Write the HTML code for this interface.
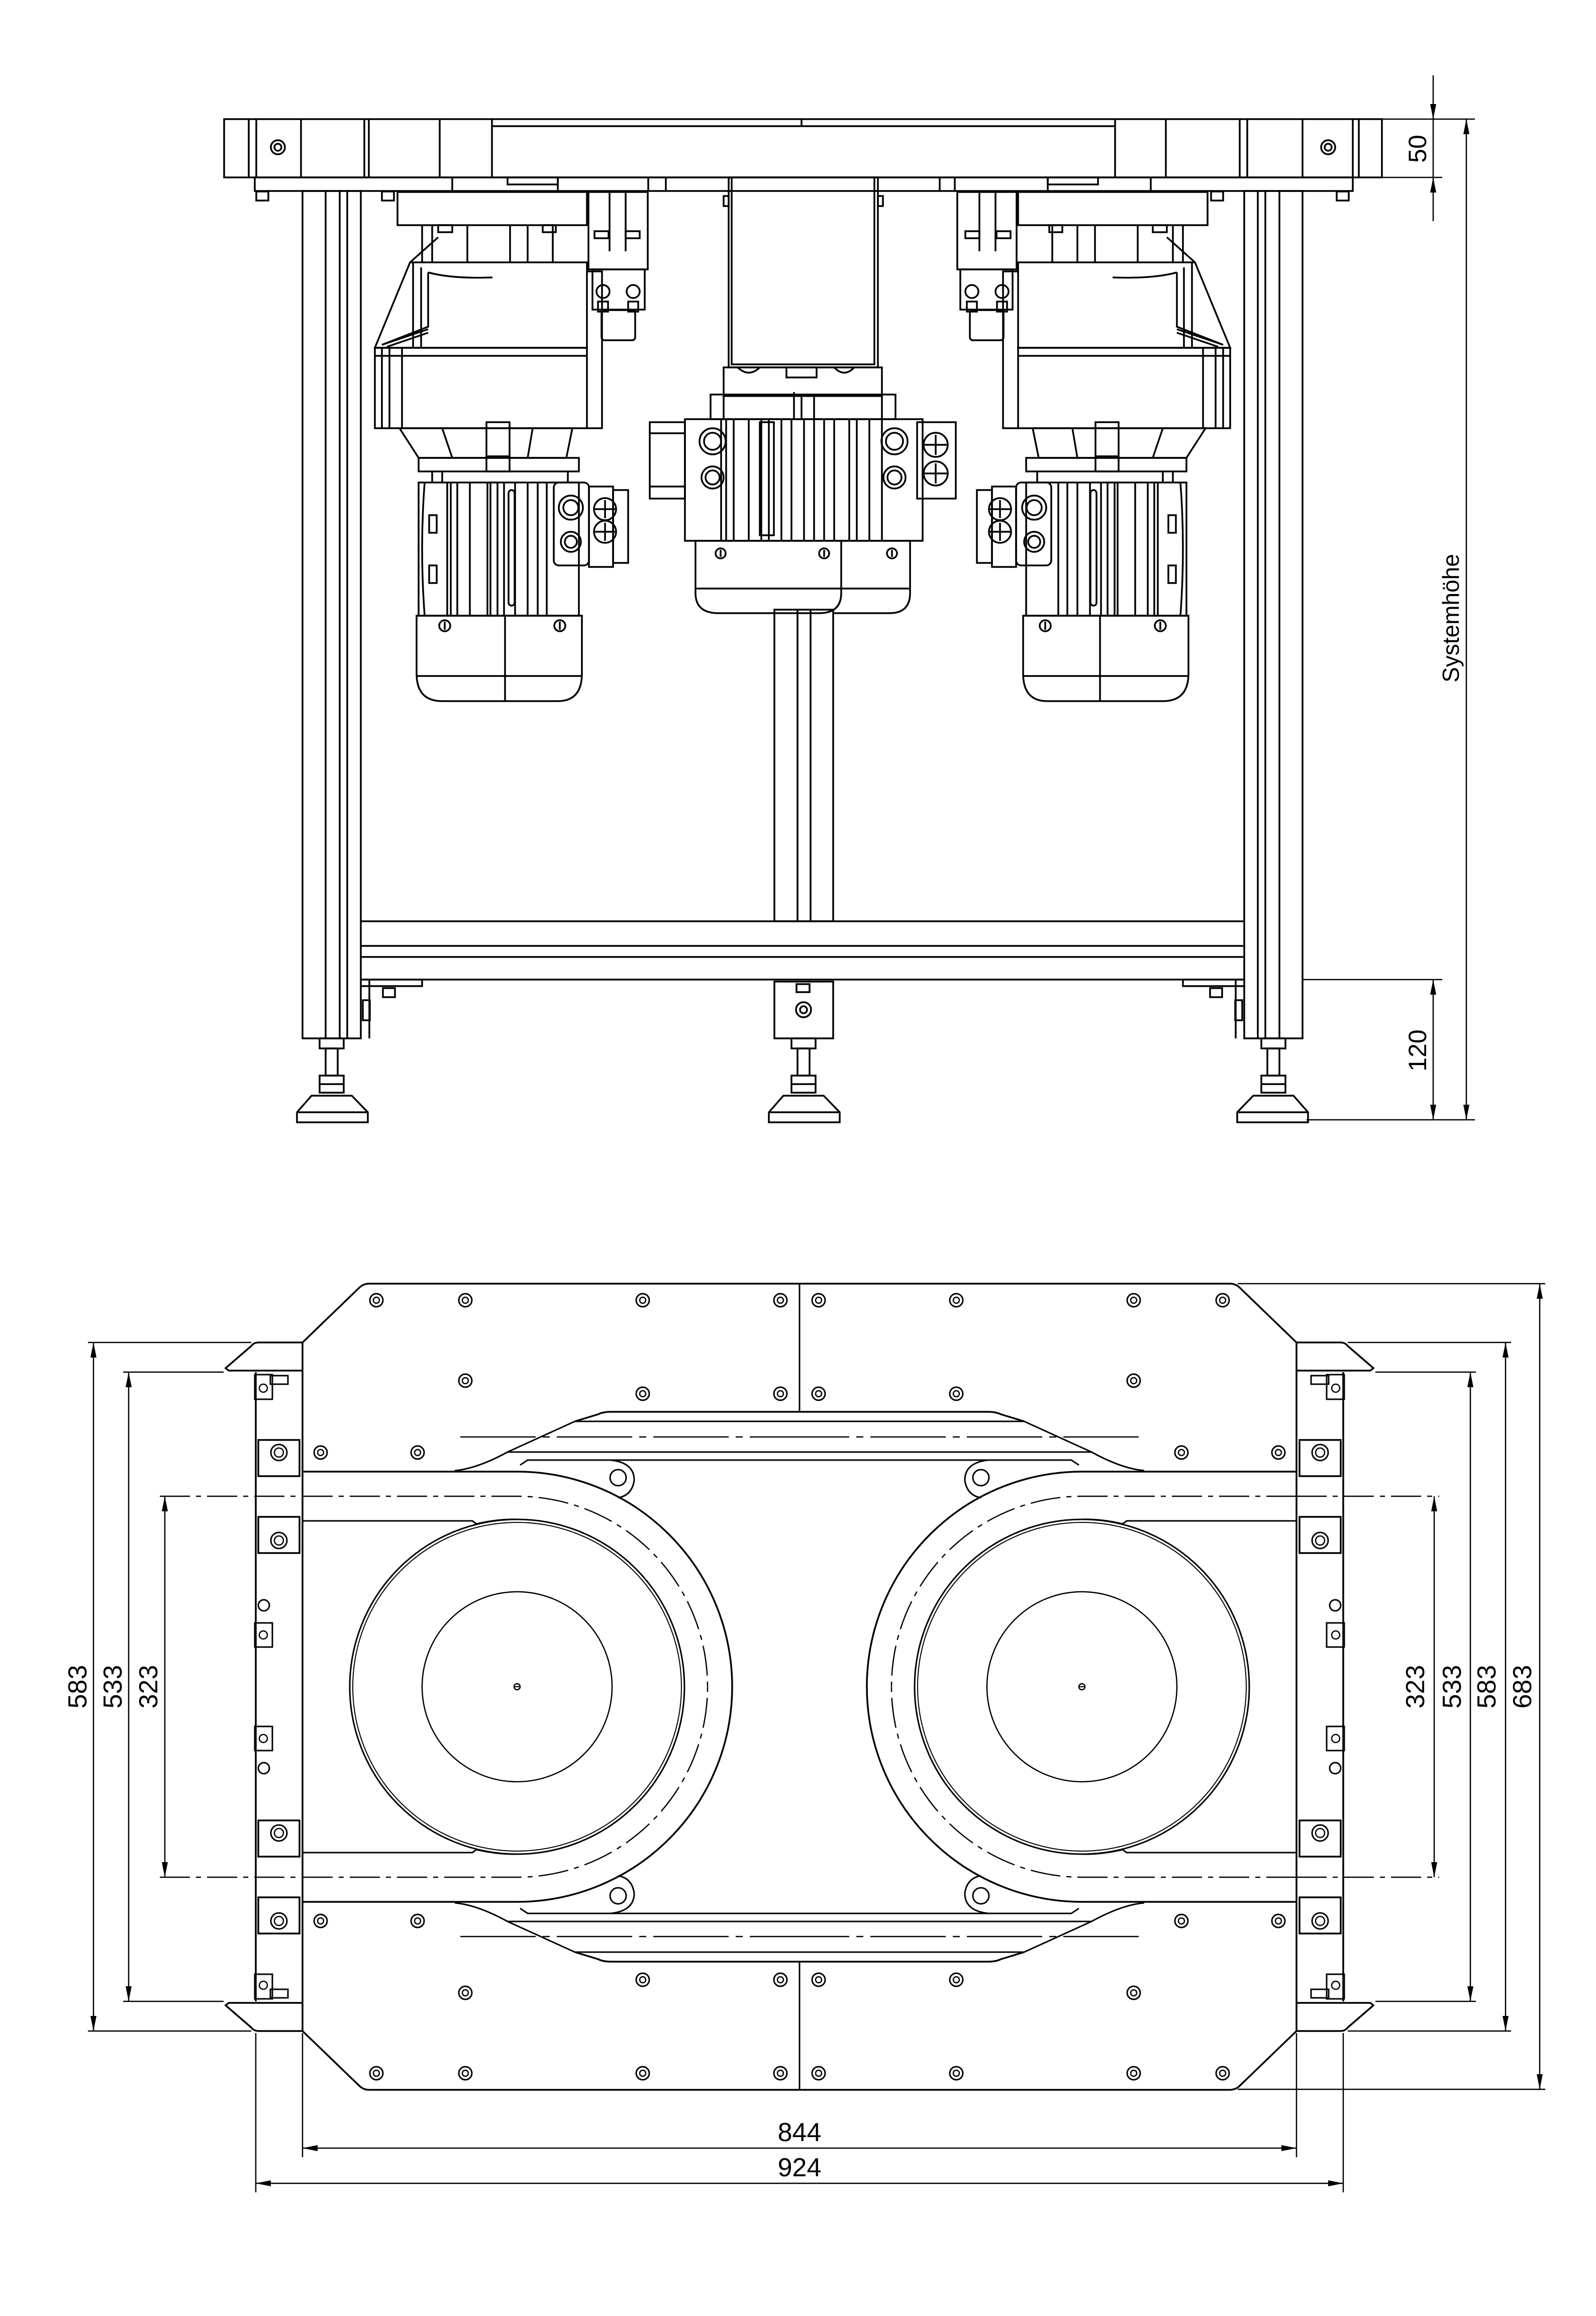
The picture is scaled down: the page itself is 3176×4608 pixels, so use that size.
<!DOCTYPE html>
<html><head><meta charset="utf-8"><style>
html,body{margin:0;padding:0;background:#fff;}
svg{display:block;}
text{font-family:"Liberation Sans Narrow","Liberation Sans",sans-serif;fill:#000;}
</style></head><body>
<svg width="3176" height="4608" viewBox="0 0 3176 4608" xmlns="http://www.w3.org/2000/svg">
<defs>
<marker id="ar" viewBox="0 0 10 4" refX="10" refY="2" markerWidth="34" markerHeight="12" markerUnits="userSpaceOnUse" orient="auto-start-reverse"><path d="M0,0 L10,2 L0,4 z" fill="#000"/></marker>
<g id="bolt"><circle r="13" fill="none" stroke="#000" stroke-width="3"/><circle r="6" fill="none" stroke="#000" stroke-width="2.5"/></g>

<!-- top view: left side (mirrored for right) -->
<g id="tvside" fill="none" stroke="#000" stroke-width="3.5">
  <!-- leg -->
  <rect x="602" y="380" width="116" height="1686"/>
  <line x1="648" y1="380" x2="648" y2="2066"/><line x1="676" y1="380" x2="676" y2="2066"/><line x1="691" y1="380" x2="691" y2="2066"/>
  <!-- bracket under beam -->
  <path d="M718 1949 H840 V1962 H718"/><rect x="762" y="1966" width="24" height="18"/>
  <line x1="735" y1="1949" x2="735" y2="2066"/><rect x="722" y="1990" width="14" height="40"/>
  <!-- foot -->
  <rect x="636" y="2066" width="48" height="20"/>
  <rect x="648" y="2086" width="24" height="54"/>
  <rect x="636" y="2140" width="48" height="34"/>
  <line x1="636" y1="2157" x2="684" y2="2157"/>
  <path d="M620 2180 H700 L732 2213 V2233 H591 V2213 Z"/><line x1="591" y1="2213" x2="732" y2="2213"/>
  <!-- top connector -->
  <rect x="791" y="382" width="377" height="66"/>
  <line x1="840" y1="448" x2="840" y2="522"/><line x1="860" y1="448" x2="860" y2="522"/>
  <line x1="930" y1="448" x2="930" y2="522"/><line x1="1015" y1="448" x2="1015" y2="522"/>
  <line x1="1050" y1="448" x2="1050" y2="522"/><line x1="1100" y1="448" x2="1100" y2="522"/>
  <rect x="872" y="448" width="28" height="14"/><rect x="1080" y="448" width="26" height="14"/>
  <!-- gearbox -->
  <path d="M816 522 H1168 V692 H746 Z"/>
  <path d="M816 522 L872 472"/>
  <path d="M822 522 L822 692 M838 532 L838 692 M852 542 Q900 555 980 552 M852 542 V650 L760 686"/>
  <path d="M760 686 L852 655 M770 690 L852 662"/>
  <rect x="746" y="692" width="422" height="160"/>
  <line x1="746" y1="708" x2="1168" y2="708"/>
  <line x1="760" y1="692" x2="760" y2="852"/><line x1="775" y1="692" x2="775" y2="852"/><line x1="800" y1="692" x2="800" y2="852"/>
  <path d="M1168 540 H1198 V852 H1168"/>
  <path d="M795 852 H1139 L1127 911 H833 Z"/>
  <rect x="968" y="840" width="46" height="68"/>
  <path d="M880 852 L900 911 M1060 852 L1050 911"/>
  <rect x="833" y="911" width="319" height="27"/>
  <rect x="968" y="908" width="46" height="30"/>
  <line x1="860" y1="938" x2="860" y2="960"/><line x1="880" y1="938" x2="880" y2="960"/><line x1="1130" y1="938" x2="1130" y2="960"/>
  <!-- motor body -->
  <rect x="833" y="960" width="319" height="265"/>
  <path d="M845 960 Q835 1090 845 1225"/>
  <line x1="890" y1="960" x2="890" y2="1225"/><line x1="897" y1="960" x2="897" y2="1225"/>
  <line x1="910" y1="960" x2="910" y2="1225"/><line x1="935" y1="960" x2="935" y2="1225"/>
  <line x1="976" y1="960" x2="976" y2="1225"/><line x1="1003" y1="960" x2="1003" y2="1225"/>
  <line x1="1025" y1="960" x2="1025" y2="1225"/><line x1="1050" y1="960" x2="1050" y2="1225"/>
  <line x1="1070" y1="960" x2="1070" y2="1225"/><line x1="1088" y1="960" x2="1088" y2="1225"/>
  <rect x="854" y="1025" width="15" height="35"/><rect x="854" y="1125" width="15" height="35"/>
  <rect x="970" y="960" width="20" height="265"/><rect x="1012" y="975" width="12" height="230" rx="6"/>
  <!-- end cap -->
  <path d="M829 1225 H1158 V1340 Q1158 1395 1110 1395 H880 Q829 1395 829 1340 Z"/>
  <line x1="829" y1="1345" x2="1158" y2="1345"/><line x1="1005" y1="1225" x2="1005" y2="1395"/>
  <g transform="translate(885,1245)"><circle r="11"/><line x1="0" y1="-8" x2="0" y2="8"/></g>
  <g transform="translate(1114,1245)"><circle r="11"/><line x1="0" y1="-8" x2="0" y2="8"/></g>
  <!-- terminal box -->
  <rect x="1102" y="960" width="70" height="165" rx="10"/>
  <rect x="1172" y="968" width="48" height="160"/>
  <rect x="1220" y="975" width="30" height="145"/>
  <circle cx="1136" cy="1010" r="24"/><circle cx="1136" cy="1010" r="15"/>
  <circle cx="1136" cy="1078" r="20"/><circle cx="1136" cy="1078" r="12"/>
  <circle cx="1204" cy="1013" r="22"/><line x1="1184" y1="1013" x2="1224" y2="1013"/><line x1="1204" y1="995" x2="1204" y2="1031"/>
  <circle cx="1204" cy="1058" r="22"/><line x1="1184" y1="1058" x2="1224" y2="1058"/><line x1="1204" y1="1040" x2="1204" y2="1076"/>
  <!-- valve -->
  <rect x="1171" y="382" width="118" height="154"/>
  <line x1="1213" y1="382" x2="1213" y2="500"/><line x1="1245" y1="382" x2="1245" y2="500"/>
  <rect x="1183" y="460" width="28" height="14"/><rect x="1245" y="460" width="28" height="14"/>
  <rect x="1179" y="536" width="104" height="80"/>
  <circle cx="1200" cy="580" r="13"/><circle cx="1260" cy="580" r="13"/>
  <rect x="1190" y="600" width="20" height="20"/><rect x="1250" y="600" width="20" height="20"/>
  <rect x="1197" y="617" width="67" height="60" rx="6"/>
</g>
</defs>

<!-- ============ TOP VIEW ============ -->
<g fill="none" stroke="#000" stroke-width="3.5">
  <rect x="446" y="237" width="2304" height="116"/>
  <path d="M495 237V353 M510 237V353 M599 237V353 M725 237V353 M734 237V353 M875 237V353 M979 237V353 M2219 237V353 M2320 237V353 M2467 237V353 M2482 237V353 M2592 237V353 M2692 237V353 M2704 237V353"/>
  <line x1="979" y1="251" x2="2219" y2="251"/>
  <line x1="1595" y1="237" x2="1595" y2="251"/>
  <g transform="translate(553,293)"><circle r="14"/><circle r="7"/></g>
  <g transform="translate(2643,293)"><circle r="14"/><circle r="7"/></g>
  <rect x="507" y="353" width="2185" height="27"/>
  <path d="M900 353V380 M1110 353V380 M1290 353V380 M1325 353V380 M1870 353V380 M1900 353V380 M2085 353V380 M2290 353V380"/>
  <rect x="510" y="381" width="24" height="18"/><rect x="760" y="381" width="24" height="18"/>
  <rect x="2410" y="381" width="24" height="18"/><rect x="2660" y="381" width="24" height="18"/>
  <rect x="1010" y="353" width="100" height="14"/><rect x="2085" y="353" width="100" height="14"/>
</g>
<use href="#tvside"/>
<use href="#tvside" transform="translate(3194,0) scale(-1,1)"/>

<!-- center structure -->
<g fill="none" stroke="#000" stroke-width="3.5">
  <!-- cross beam -->
  <path d="M718 1833 H2474 M718 1882 H2474 M718 1904 H2474 M718 1949 H2474"/>
  <!-- center post -->
  <rect x="1541" y="1213" width="117" height="620"/>
  <line x1="1587" y1="1213" x2="1587" y2="1833"/><line x1="1613" y1="1213" x2="1613" y2="1833"/>
  <rect x="1541" y="1953" width="117" height="113"/>
  <rect x="1585" y="1958" width="26" height="16"/>
  <circle cx="1599" cy="2009" r="15"/><circle cx="1599" cy="2009" r="7"/>
  <rect x="1575" y="2066" width="48" height="20"/><rect x="1587" y="2086" width="24" height="54"/>
  <rect x="1575" y="2140" width="48" height="34"/><line x1="1575" y1="2157" x2="1623" y2="2157"/>
  <path d="M1559 2180 H1639 L1671 2213 V2233 H1530 V2213 Z"/><line x1="1530" y1="2213" x2="1671" y2="2213"/>
  <!-- center gearbox column -->
  <rect x="1450" y="353" width="297" height="378"/>
  <rect x="1456" y="353" width="284" height="372"/>
  <rect x="1440" y="390" width="10" height="20"/><rect x="1747" y="390" width="10" height="20"/>
  <path d="M1440 731 H1755 V788 H1440 Z"/>
  <path d="M1468 731 Q1490 752 1512 731 M1660 731 Q1680 752 1700 731"/>
  <rect x="1565" y="731" width="60" height="20"/>
  <path d="M1414 785 H1782 V834 H1414 Z"/>
  <path d="M1440 788 V834 M1755 788 V834 M1580 780 V834 M1595 790 V834 M1620 790 V834"/>
  <!-- center motor -->
  <rect x="1363" y="834" width="473" height="242"/>
  <path d="M1435 834V1076 M1445 834V1076 M1460 834V1076 M1490 834V1076 M1515 834V1076 M1530 834V1076 M1555 834V1076 M1575 834V1076 M1600 834V1076 M1620 834V1076 M1640 834V1076 M1660 834V1076 M1690 834V1076 M1705 834V1076 M1730 834V1076 M1755 834V1076"/>
  <rect x="1512" y="840" width="28" height="225"/>
  <circle cx="1418" cy="878" r="26"/><circle cx="1418" cy="878" r="17"/>
  <circle cx="1418" cy="950" r="22"/><circle cx="1418" cy="950" r="14"/>
  <circle cx="1780" cy="878" r="26"/><circle cx="1780" cy="878" r="17"/>
  <circle cx="1780" cy="950" r="22"/><circle cx="1780" cy="950" r="14"/>
  <rect x="1293" y="840" width="70" height="152"/><line x1="1293" y1="862" x2="1363" y2="862"/><line x1="1293" y1="968" x2="1363" y2="968"/>
  <rect x="1825" y="840" width="77" height="152"/>
  <circle cx="1862" cy="885" r="24"/><line x1="1840" y1="885" x2="1884" y2="885"/><line x1="1862" y1="865" x2="1862" y2="905"/>
  <circle cx="1862" cy="942" r="24"/><line x1="1840" y1="942" x2="1884" y2="942"/><line x1="1862" y1="922" x2="1862" y2="962"/>
  <!-- center caps -->
  <path d="M1384 1076 H1674 V1180 Q1674 1220 1630 1220 H1430 Q1384 1220 1384 1180 Z"/>
  <path d="M1674 1076 H1811 V1180 Q1811 1220 1770 1220 H1660"/>
  <line x1="1384" y1="1171" x2="1811" y2="1171"/>
  <g transform="translate(1434,1101)"><circle r="10"/><line x1="0" y1="-7" x2="0" y2="7"/></g>
  <g transform="translate(1640,1101)"><circle r="10"/><line x1="0" y1="-7" x2="0" y2="7"/></g>
  <g transform="translate(1775,1101)"><circle r="10"/><line x1="0" y1="-7" x2="0" y2="7"/></g>
</g>

<!-- top view dimensions -->
<g fill="none" stroke="#000" stroke-width="2.5">
  <line x1="2750" y1="237" x2="2935" y2="237"/>
  <line x1="2750" y1="353" x2="2870" y2="353"/>
  <line x1="2592" y1="1949" x2="2870" y2="1949"/>
  <line x1="2600" y1="2228" x2="2935" y2="2228"/>
  <line x1="2852" y1="150" x2="2852" y2="237" marker-end="url(#ar)"/>
  <line x1="2852" y1="440" x2="2852" y2="353" marker-end="url(#ar)"/>
  <line x1="2852" y1="237" x2="2852" y2="353"/>
  <line x1="2852" y1="1949" x2="2852" y2="2228" marker-start="url(#ar)" marker-end="url(#ar)"/>
  <line x1="2918" y1="237" x2="2918" y2="2228" marker-start="url(#ar)" marker-end="url(#ar)"/>
</g>
<g font-size="50">
  <text transform="translate(2838,296) rotate(-90)" text-anchor="middle">50</text>
  <text transform="translate(2838,2090) rotate(-90)" text-anchor="middle">120</text>
  <text transform="translate(2903,1230) rotate(-90)" text-anchor="middle" font-size="46">Systemhöhe</text>
</g>

<!-- ============ BOTTOM VIEW ============ -->
<defs>
<g id="quad" fill="none" stroke="#000" stroke-width="3.5">
  <path d="M1591 2554 H735 Q723 2554 715 2562 L602 2671 V3356"/>
  <path d="M509 2730 V3356"/>
  <path d="M602 2671 H515 Q505 2671 500 2678 L449 2722 L455 2727 H602"/>
  <!-- rail pads -->
  <rect x="514" y="2865" width="82" height="72"/><g transform="translate(555,2890)"><circle r="16" stroke-width="3"/><circle r="9" stroke-width="2.5"/></g>
  <rect x="514" y="3018" width="82" height="72"/><g transform="translate(555,3065)"><circle r="16" stroke-width="3"/><circle r="9" stroke-width="2.5"/></g>
  <rect x="507" y="2735" width="35" height="49" stroke-width="3"/><rect x="538" y="2737" width="35" height="17" stroke-width="3"/><circle cx="524" cy="2762" r="8" stroke-width="2.5"/>
  <circle cx="525" cy="3194" r="11" stroke-width="3"/>
  <rect x="507" y="3229" width="35" height="48" stroke-width="3"/><circle cx="524" cy="3253" r="8" stroke-width="2.5"/>
  <!-- belt -->
  <path d="M602 2928 H1029 A428 428 0 0 1 1457 3356"/>
  <path d="M602 2977 H1029 A379 379 0 0 1 1408 3356" stroke-width="2.5" stroke-dasharray="60 12 10 12"/>
  <path d="M602 3026 H940 L948 3032 Q990 3022 1029 3023 A333 333 0 0 1 1362 3356" stroke-width="3"/>
  <path d="M1029 3023 A333 333 0 0 0 696 3356" stroke-width="3"/>
  <path d="M1029 3029 A327 327 0 0 1 1356 3356" stroke-width="2"/>
  <path d="M1029 3029 A327 327 0 0 0 702 3356" stroke-width="2"/>
  <path d="M1029 3167 A189 189 0 0 1 1218 3356 M1029 3167 A189 189 0 0 0 840 3356" stroke-width="2.5"/>
  <!-- pivot lug -->
  <path d="M1110 2905 H1215 Q1262 2910 1262 2945 Q1258 2975 1230 2980" stroke-width="3"/>
  <circle cx="1230" cy="2940" r="16" stroke-width="3"/>
  <path d="M1035 2915 L1050 2905 H1110" stroke-width="3"/>
  <!-- middle guide -->
  <path d="M1591 2809 H1215 Q1200 2809 1190 2814 L1144 2828"/>
  <path d="M1591 2828 H1144 L1010 2889 Q950 2922 905 2926" stroke-width="3"/>
  <line x1="916" y1="2859" x2="1591" y2="2859" stroke-width="2.5" stroke-dasharray="150 14 14 14"/>
  <path d="M1010 2889 H1591" stroke-width="3"/>
  <path d="M1112 2905 H1591" stroke-width="3"/>
  <line x1="1591" y1="2554" x2="1591" y2="2809" stroke-width="3"/>
  <!-- bolts -->
  <use href="#bolt" x="749" y="2587"/><use href="#bolt" x="926" y="2587"/><use href="#bolt" x="1279" y="2587"/><use href="#bolt" x="1553" y="2587"/>
  <use href="#bolt" x="926" y="2747"/><use href="#bolt" x="1279" y="2773"/><use href="#bolt" x="1553" y="2773"/>
  <use href="#bolt" x="638" y="2890"/><use href="#bolt" x="831" y="2890"/>
</g>
<g id="half">
  <use href="#quad"/>
  <use href="#quad" transform="translate(0,6712) scale(1,-1)"/>
  <circle cx="1029" cy="3356" r="6" fill="none" stroke="#000" stroke-width="2.5"/>
  <line x1="1023" y1="3356" x2="1035" y2="3356" stroke="#000" stroke-width="2"/>
</g>
</defs>
<use href="#half"/>
<use href="#half" transform="translate(3182,0) scale(-1,1)"/>

<!-- bottom view dimensions -->
<g fill="none" stroke="#000" stroke-width="2.5">
  <!-- left ext -->
  <line x1="175" y1="2671" x2="500" y2="2671"/><line x1="175" y1="4041" x2="500" y2="4041"/>
  <line x1="245" y1="2730" x2="445" y2="2730"/><line x1="245" y1="3982" x2="445" y2="3982"/>
  <line x1="318" y1="2977" x2="602" y2="2977" stroke-dasharray="60 12 10 12"/><line x1="318" y1="3735" x2="602" y2="3735" stroke-dasharray="60 12 10 12"/>
  <line x1="186" y1="2671" x2="186" y2="4041" marker-start="url(#ar)" marker-end="url(#ar)"/>
  <line x1="256" y1="2730" x2="256" y2="3982" marker-start="url(#ar)" marker-end="url(#ar)"/>
  <line x1="328" y1="2977" x2="328" y2="3735" marker-start="url(#ar)" marker-end="url(#ar)"/>
  <!-- right ext -->
  <line x1="2682" y1="2671" x2="3007" y2="2671"/><line x1="2682" y1="4041" x2="3007" y2="4041"/>
  <line x1="2737" y1="2730" x2="2937" y2="2730"/><line x1="2737" y1="3982" x2="2937" y2="3982"/>
  <line x1="2580" y1="2977" x2="2864" y2="2977" stroke-dasharray="60 12 10 12"/><line x1="2580" y1="3735" x2="2864" y2="3735" stroke-dasharray="60 12 10 12"/>
  <line x1="2463" y1="2554" x2="3075" y2="2554"/><line x1="2463" y1="4157" x2="3075" y2="4157"/>
  <line x1="2854" y1="2977" x2="2854" y2="3735" marker-start="url(#ar)" marker-end="url(#ar)"/>
  <line x1="2926" y1="2730" x2="2926" y2="3982" marker-start="url(#ar)" marker-end="url(#ar)"/>
  <line x1="2996" y1="2671" x2="2996" y2="4041" marker-start="url(#ar)" marker-end="url(#ar)"/>
  <line x1="3064" y1="2554" x2="3064" y2="4157" marker-start="url(#ar)" marker-end="url(#ar)"/>
  <!-- bottom -->
  <line x1="602" y1="4045" x2="602" y2="4292"/><line x1="2580" y1="4045" x2="2580" y2="4292"/>
  <line x1="509" y1="4045" x2="509" y2="4362"/><line x1="2673" y1="4045" x2="2673" y2="4362"/>
  <line x1="602" y1="4274" x2="2580" y2="4274" marker-start="url(#ar)" marker-end="url(#ar)"/>
  <line x1="509" y1="4344" x2="2673" y2="4344" marker-start="url(#ar)" marker-end="url(#ar)"/>
</g>
<g font-size="52">
  <text transform="translate(172,3356) rotate(-90)" text-anchor="middle">583</text>
  <text transform="translate(242,3356) rotate(-90)" text-anchor="middle">533</text>
  <text transform="translate(313,3356) rotate(-90)" text-anchor="middle">323</text>
  <text transform="translate(2834,3356) rotate(-90)" text-anchor="middle">323</text>
  <text transform="translate(2907,3356) rotate(-90)" text-anchor="middle">533</text>
  <text transform="translate(2976,3356) rotate(-90)" text-anchor="middle">583</text>
  <text transform="translate(3047,3356) rotate(-90)" text-anchor="middle">683</text>
  <text x="1591" y="4260" text-anchor="middle">844</text>
  <text x="1591" y="4330" text-anchor="middle">924</text>
</g>
</svg>
</body></html>
